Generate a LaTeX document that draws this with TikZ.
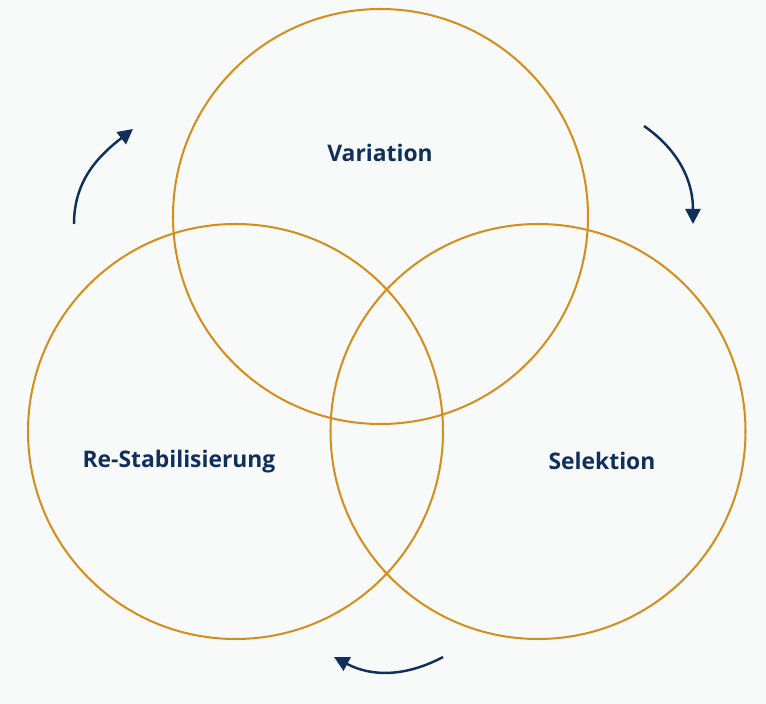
\documentclass[tikz,border=0pt]{standalone}
\usepackage{fontspec}
\setmainfont{Open Sans}
\usepackage{tikz}
\usepackage{xcolor}
\usetikzlibrary{arrows.meta}
\definecolor{ringgold}{RGB}{212, 142, 30}
\definecolor{labelnavy}{RGB}{16, 47, 90}
\definecolor{paperbg}{RGB}{248, 249, 249}

\begin{document}
\begin{tikzpicture}[
    ring/.style={draw=ringgold, line width=1.15pt, circle, minimum size=8.3cm, inner sep=0pt},
    phase/.style={labelnavy, font=\fontsize{13}{15}\selectfont\bfseries},
    cycle/.style={-{Triangle[length=0.3cm, width=0.3cm]}, labelnavy, line width=1.4pt}
]
            % Background
            \fill[paperbg] (0,0) rectangle (15.32,14.08);
            \useasboundingbox (0,0) rectangle (15.32,14.08);

            % Three circles
            \node[ring] (varring) at (7.61,9.75) {};
            \node[ring] (restabring) at (4.71,5.45) {};
            \node[ring] (selring) at (10.76,5.45) {};

            % Labels
            \node[phase] (variation) at (7.60,11.03) {Variation};
            \node[phase] (restab) at (3.58,4.85) {Re-Stabilisierung};
            \node[phase] (selektion) at (12.04,4.87) {Selektion};

            % Cycle arrows
            \coordinate (leftstart) at (1.48,9.60);
            \coordinate (leftend) at (2.66,11.50);
            \coordinate (rightstart) at (12.88,11.56);
            \coordinate (rightend) at (13.86,9.60);
            \coordinate (bottomstart) at (8.86,0.94);
            \coordinate (bottomend) at (6.68,0.94);
            \draw[cycle] (leftstart) to[out=90, in=218] (leftend);
            \draw[cycle] (rightstart) to[out=-35, in=90] (rightend);
            \draw[cycle] (bottomstart) to[out=208, in=-28] (bottomend);
        \end{tikzpicture}
\end{document}
